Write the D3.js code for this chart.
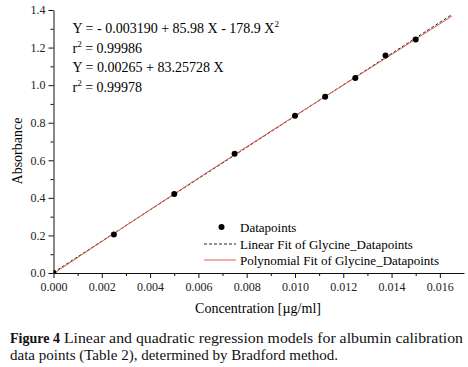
<!DOCTYPE html>
<html>
<head>
<meta charset="utf-8">
<script src="https://cdn.jsdelivr.net/npm/d3@7"></script>
<style>
  html, body { margin: 0; padding: 0; background: #fff; }
  svg { display: block; font-family: "Liberation Serif", "Times New Roman", serif; }
  .axis path, .axis line { stroke: #111; stroke-width: 1; }
  .axis text { font-family: "Liberation Serif", serif; font-size: 12px; fill: #222; }
</style>
</head>
<body>
<div id="chart"></div>
<script>
// Bradford calibration: concentration vs absorbance
const concentration = [0, 0.0025, 0.005, 0.0075, 0.01, 0.01125, 0.0125, 0.01375, 0.015];
const absorbance    = [0, 0.205, 0.42, 0.635, 0.837, 0.938, 1.038, 1.158, 1.243];

// fitted lines
const linearFitX = [0, 0.0165];
const linearFitY = [0.003, 1.376];
const polyFitX   = [0, 0.004, 0.008, 0.012, 0.0165];
const polyFitY   = [-0.003, 0.337, 0.672, 1.000, 1.367];

const xMajorTicks = [0, 0.002, 0.004, 0.006, 0.008, 0.010, 0.012, 0.014, 0.016];
const xMinorTicks = [0.001, 0.003, 0.005, 0.007, 0.009, 0.011, 0.013, 0.015];
const yMajorTicks = [0, 0.2, 0.4, 0.6, 0.8, 1.0, 1.2, 1.4];
const yMinorTicks = [0.1, 0.3, 0.5, 0.7, 0.9, 1.1, 1.3];

const equations = [
  ["Y = - 0.003190 + 85.98 X - 178.9 X", "2", ""],
  ["r", "2", " = 0.99986"],
  ["Y = 0.00265 + 83.25728 X", "", ""],
  ["r", "2", " = 0.99978"]
];
const legendLabels = ["Datapoints", "Linear Fit of Glycine_Datapoints", "Polynomial Fit of Glycine_Datapoints"];

const fullW = 468, fullH = 367;
const red = "#e25a4e";

const svg = d3.select("#chart").append("svg")
  .attr("width", fullW).attr("height", fullH);

const x = d3.scaleLinear().domain([0, 0.017]).range([53.5, 464]);
const y = d3.scaleLinear().domain([0, 1.4]).range([273, 10]);

// clip for data marks
svg.append("clipPath").attr("id", "plot-clip")
  .append("rect")
  .attr("x", x(0)).attr("y", y(1.4))
  .attr("width", x(0.017) - x(0)).attr("height", y(0) - y(1.4));

// axes: minor first, then major
svg.append("g").attr("class", "axis")
  .attr("transform", `translate(0,${y(0)})`)
  .call(d3.axisBottom(x).tickValues(xMinorTicks).tickSize(3).tickFormat("").tickSizeOuter(0))
  .select(".domain").remove();
svg.append("g").attr("class", "axis")
  .attr("transform", `translate(${x(0)},0)`)
  .call(d3.axisLeft(y).tickValues(yMinorTicks).tickSize(3).tickFormat("").tickSizeOuter(0))
  .select(".domain").remove();

svg.append("g").attr("class", "axis")
  .attr("transform", `translate(0,${y(0)})`)
  .call(d3.axisBottom(x).tickValues(xMajorTicks).tickSize(5).tickPadding(4)
    .tickFormat(d3.format(".3f")).tickSizeOuter(0));
svg.append("g").attr("class", "axis")
  .attr("transform", `translate(${x(0)},0)`)
  .call(d3.axisLeft(y).tickValues(yMajorTicks).tickSize(5).tickPadding(3)
    .tickFormat(d3.format(".1f")).tickSizeOuter(0));

// axis titles
svg.append("text")
  .attr("x", 258).attr("y", 313)
  .attr("text-anchor", "middle")
  .style("font-size", "14px")
  .text("Concentration [µg/ml]");

svg.append("text")
  .attr("transform", "translate(22,151) rotate(-90)")
  .attr("text-anchor", "middle")
  .style("font-size", "14px")
  .text("Absorbance");

// fit lines
const plot = svg.append("g").attr("clip-path", "url(#plot-clip)");

const linearData = linearFitX.map((d, i) => [d, linearFitY[i]]);
const polyData = polyFitX.map((d, i) => [d, polyFitY[i]]);

plot.append("path")
  .datum(linearData)
  .attr("fill", "none")
  .attr("stroke", "#222")
  .attr("stroke-width", 1)
  .attr("stroke-dasharray", "3,2")
  .attr("d", d3.line().x(d => x(d[0])).y(d => y(d[1])));

plot.append("path")
  .datum(polyData)
  .attr("fill", "none")
  .attr("stroke", red)
  .attr("stroke-width", 1)
  .attr("d", d3.line().curve(d3.curveMonotoneX).x(d => x(d[0])).y(d => y(d[1])));

// data points
plot.selectAll(".pt")
  .data(concentration.map((c, i) => ({ c, a: absorbance[i] })))
  .enter().append("circle")
  .attr("class", "pt")
  .attr("cx", d => x(d.c))
  .attr("cy", d => y(d.a))
  .attr("r", 3)
  .attr("fill", "#000");

// equations
const eqG = svg.append("g").style("font-size", "14px");
const eqBase = [33, 53, 71.5, 91.5];
equations.forEach((parts, i) => {
  const t = eqG.append("text").attr("x", 72.5).attr("y", eqBase[i]);
  t.append("tspan").text(parts[0]);
  if (parts[1]) {
    t.append("tspan").attr("dy", -6).style("font-size", "9px").text(parts[1]);
    t.append("tspan").attr("dy", 6).text(parts[2]);
  }
});

// legend
const lg = svg.append("g").style("font-size", "13px");
const lgY = [227, 244, 260];
lg.append("circle").attr("cx", 221.5).attr("cy", lgY[0]).attr("r", 3).attr("fill", "#000");
lg.append("line").attr("x1", 204).attr("x2", 236).attr("y1", lgY[1]).attr("y2", lgY[1])
  .attr("stroke", "#222").attr("stroke-dasharray", "3,2");
lg.append("line").attr("x1", 204).attr("x2", 236).attr("y1", lgY[2]).attr("y2", lgY[2])
  .attr("stroke", red);
lg.selectAll(".lg-label")
  .data(legendLabels)
  .enter().append("text")
  .attr("class", "lg-label")
  .attr("x", 240)
  .attr("y", (d, i) => lgY[i] + 4.5)
  .text(d => d);

// caption
const cap = svg.append("g").style("font-size", "14px").style("fill", "#111");
const fig = cap.append("text").attr("x", 10).attr("y", 343)
  .style("font-weight", "bold").text("Figure 4");
const restX = 10 + fig.node().getComputedTextLength() + 4;
cap.append("text").attr("x", restX).attr("y", 343)
  .attr("textLength", 463 - restX).attr("lengthAdjust", "spacingAndGlyphs")
  .text("Linear and quadratic regression models for albumin calibration");
cap.append("text").attr("x", 10).attr("y", 360)
  .attr("textLength", 328).attr("lengthAdjust", "spacingAndGlyphs")
  .text("data points (Table 2), determined by Bradford method.");
</script>
</body>
</html>
